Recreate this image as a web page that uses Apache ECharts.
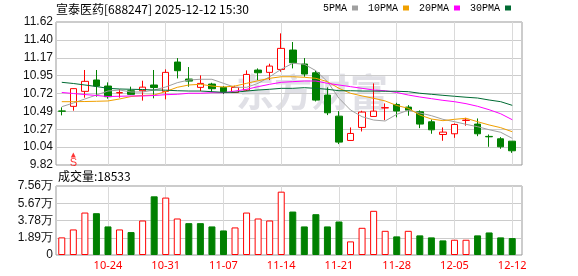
<!DOCTYPE html>
<html><head><meta charset="utf-8">
<script src="https://cdn.jsdelivr.net/npm/echarts@6/dist/echarts.min.js"></script>
<style>html,body{margin:0;padding:0;background:#fff}#c{width:578px;height:276px}</style>
</head><body><div id="c"></div><script>
const stockTitle = '宣泰医药[688247] 2025-12-12 15:30';
const volumeTitle = '成交量';
const dates = ['10-20','10-21','10-22','10-23','10-24','10-27','10-28','10-29','10-30','10-31',
  '11-03','11-04','11-05','11-06','11-07','11-10','11-11','11-12','11-13','11-14',
  '11-17','11-18','11-19','11-20','11-21','11-24','11-25','11-26','11-27','11-28',
  '12-01','12-02','12-03','12-04','12-05','12-08','12-09','12-10','12-11','12-12'];
const weekLabels = ['10-24','10-31','11-07','11-14','11-21','11-28','12-05','12-12'];
// [open, close, low, high]
const candles = [
  [10.500,10.497,10.445,10.546],[10.558,10.781,10.504,10.785],[10.747,10.873,10.667,11.016],[10.890,10.814,10.680,11.016],[10.814,10.680,10.655,10.860],
  [10.728,10.731,10.667,10.772],[10.755,10.709,10.705,10.806],[10.755,10.800,10.630,10.881],[10.827,10.795,10.659,11.016],[10.747,10.986,10.646,11.024],
  [11.116,11.007,10.910,11.166],[10.902,10.876,10.805,11.053],[10.797,10.847,10.750,10.948],[10.839,10.780,10.738,10.855],[10.797,10.742,10.713,10.813],
  [10.734,10.797,10.729,10.818],[10.763,10.960,10.750,11.011],[11.015,10.981,10.889,11.036],[10.986,11.065,10.889,11.095],[11.023,11.288,10.994,11.477],
  [11.267,11.107,11.036,11.368],[11.091,10.965,10.931,11.166],[10.981,10.637,10.620,11.007],[10.700,10.477,10.448,10.797],[10.435,10.108,10.083,10.498],
  [10.129,10.217,10.125,10.293],[10.293,10.486,10.242,10.503],[10.431,10.498,10.425,10.847],[10.538,10.542,10.385,10.595],[10.582,10.500,10.420,10.603],
  [10.549,10.510,10.440,10.574],[10.490,10.335,10.284,10.507],[10.364,10.263,10.213,10.393],[10.204,10.234,10.125,10.293],[10.213,10.330,10.162,10.343],
  [10.381,10.385,10.314,10.414],[10.335,10.213,10.183,10.406],[10.180,10.175,10.049,10.204],[10.150,10.049,10.024,10.171],[10.120,9.999,9.973,10.120]
];
const volumes = [19300,28000,46500,45800,31300,28000,25100,37800,64300,62900,
  40000,34900,34900,31300,26900,30200,46500,40000,37800,69400,
  47600,31300,44700,31300,36700,14900,29800,48400,26500,20400,
  26500,21500,19300,16000,16700,16700,21500,24700,19300,18533];
const ma5 = [10.554,10.600,10.651,10.701,10.751,10.764,10.739,10.739,10.764,10.802,
  10.856,10.890,10.899,10.899,10.848,10.798,10.798,10.848,10.931,11.025,
  11.100,11.088,11.007,10.869,10.660,10.512,10.428,10.386,10.374,10.458,
  10.509,10.475,10.441,10.395,10.365,10.332,10.302,10.264,10.232,10.156];
const ma10 = [10.617,10.617,10.619,10.622,10.626,10.651,10.682,10.695,10.701,10.745,
  10.798,10.827,10.836,10.814,10.802,10.814,10.848,10.881,10.911,10.931,
  10.931,10.924,10.911,10.869,10.785,10.723,10.689,10.660,10.626,10.569,
  10.534,10.449,10.399,10.378,10.395,10.408,10.365,10.324,10.290,10.239];
const ma20 = [10.733,10.720,10.707,10.695,10.682,10.685,10.689,10.689,10.695,10.705,
  10.710,10.723,10.723,10.730,10.730,10.751,10.773,10.806,10.836,10.861,
  10.869,10.877,10.877,10.848,10.827,10.806,10.785,10.764,10.755,10.733,
  10.701,10.676,10.655,10.634,10.617,10.592,10.559,10.516,10.465,10.390];
const ma30 = [10.861,10.846,10.827,10.808,10.785,10.777,10.773,10.770,10.764,10.762,
  10.755,10.751,10.751,10.743,10.735,10.735,10.751,10.764,10.773,10.785,
  10.785,10.793,10.785,10.773,10.755,10.755,10.751,10.751,10.748,10.748,
  10.743,10.723,10.710,10.697,10.685,10.673,10.663,10.638,10.617,10.571];
const maNames = ['5PMA','10PMA','20PMA','30PMA'];
const priceTicks = ['9.82','10.04','10.27','10.49','10.72','10.95','11.17','11.40','11.62'];
const volTicks = ['0','1.89万','3.78万','5.67万','7.56万'];
const signals = [['10-21','S']];
const watermark = '东方财富';

const priceMin = 9.82, priceMax = 11.62;
const volStep = 18900, volMax = 75600;
const maColors = ['#a0a0a0','#f0a000','#ff00ff','#006b33'];
const maData = [ma5, ma10, ma20, ma30];
const UP = '#ff0000', DOWN = '#008000';

const volData = volumes.map((v, i) => {
  const up = i === 0 ? true : candles[i][1] >= candles[i-1][1];
  return {value: v, itemStyle: up ? {color:'#fff', borderColor:UP, borderWidth:1} : {color:DOWN, borderColor:DOWN, borderWidth:1}};
});
const isWeek = (i, v) => weekLabels.indexOf(v) >= 0;
const labelFont = 'Liberation Sans, Arial, sans-serif';
const cjkFont = 'Noto Sans CJK SC, sans-serif';
const weekSplit = {show:true, interval: isWeek, alignWithLabel: true, lineStyle:{color:'#dadada', width: 1}};

const chart = echarts.init(document.getElementById('c'), null, {renderer:'canvas'});
chart.setOption({
  animation: false,
  backgroundColor: '#fff',
  title: [
    {text: stockTitle, left: 56, top: 3, padding: 0, textStyle:{fontSize:12, fontWeight:'normal', color:'#000', fontFamily: cjkFont}},
    {text: volumeTitle + ':' + volumes[volumes.length-1], left: 58, top: 170, padding: 0, textStyle:{fontSize:12, fontWeight:'normal', color:'#000', fontFamily: cjkFont}}
  ],
  legend: {data: maNames, right: 67, top: 3, padding: 0, icon: 'rect', itemWidth: 6, itemHeight: 5, itemGap: 10, align: 'right',
    textStyle: {fontSize: 10, fontFamily: 'Liberation Mono, monospace', color: '#000', padding: [0,0,0,0]}},
  graphic: [{type:'text', left: 236, top: 73, z: 0, silent: true,
    style:{text: watermark, fontSize: 38, fontWeight: 'bold', fill: '#e0e0e6', fontFamily: cjkFont}}],
  grid: [
    {left: 56, top: 22, width: 466, height: 143, show: true, borderColor: '#999', borderWidth: 1, backgroundColor: 'transparent'},
    {left: 56, top: 22, width: 462, height: 143},
    {left: 56, top: 186, width: 466, height: 69, show: true, borderColor: '#999', borderWidth: 1, backgroundColor: 'transparent'},
    {left: 56, top: 186, width: 462, height: 69}
  ],
  xAxis: [
    {type:'value', gridIndex:0, min:0, max:1, show:false},
    {type:'category', gridIndex:1, data: dates, boundaryGap: true, axisLine:{show:false}, axisTick:{show:false}, axisLabel:{show:false}, splitLine: weekSplit},
    {type:'value', gridIndex:2, min:0, max:1, show:false},
    {type:'category', gridIndex:3, data: dates, boundaryGap: true, axisLine:{show:false}, axisTick:{show:false},
      axisLabel:{show:true, interval: isWeek, color: UP, fontSize: 11, fontFamily: 'Noto Sans, sans-serif', margin: 5},
      splitLine: weekSplit}
  ],
  yAxis: [
    {type:'value', gridIndex:0, min:0, max:priceTicks.length-1, interval:1, axisLine:{show:false}, axisTick:{show:false},
      axisLabel:{formatter: v => priceTicks[Math.round(v)], color:'#111', fontSize:12, fontFamily: labelFont, margin: 3},
      splitLine:{show:true, lineStyle:{color:'#cccccc'}}},
    {type:'value', gridIndex:1, min:priceMin, max:priceMax, show:false},
    {type:'value', gridIndex:2, min:0, max:volMax, interval:volStep, axisLine:{show:false}, axisTick:{show:false},
      axisLabel:{formatter: v => volTicks[Math.round(v/volStep)], color:'#111', fontSize:12, fontFamily: labelFont, margin: 3},
      splitLine:{show:true, lineStyle:{color:'#cccccc'}}},
    {type:'value', gridIndex:3, min:0, max:volMax, show:false}
  ],
  series: [
    {type:'candlestick', name:'K', xAxisIndex:1, yAxisIndex:1, data: candles.map(c => [c[0], c[1], c[2], c[3]]), barWidth: 7,
      itemStyle:{color:'#fff', color0:DOWN, borderColor:UP, borderColor0:DOWN, borderWidth:1}},
    ...maNames.map((n, k) => ({type:'line', name:n, xAxisIndex:1, yAxisIndex:1, data: maData[k], symbol:'none', color: maColors[k],
      lineStyle:{width:1, color: maColors[k]}})),
    {type:'scatter', xAxisIndex:1, yAxisIndex:1, data: signals.map(s => [s[0], priceMin, s[1]]), symbol:'triangle', symbolSize:[5,5], symbolOffset:[0,-10],
      itemStyle:{color:UP}, label:{show:true, position:'bottom', distance:0, formatter: p => p.data[2], color:UP, fontSize:11, fontFamily: labelFont}},
    {type:'bar', xAxisIndex:3, yAxisIndex:3, data: volData, barWidth: 7}
  ]
});
</script></body></html>
